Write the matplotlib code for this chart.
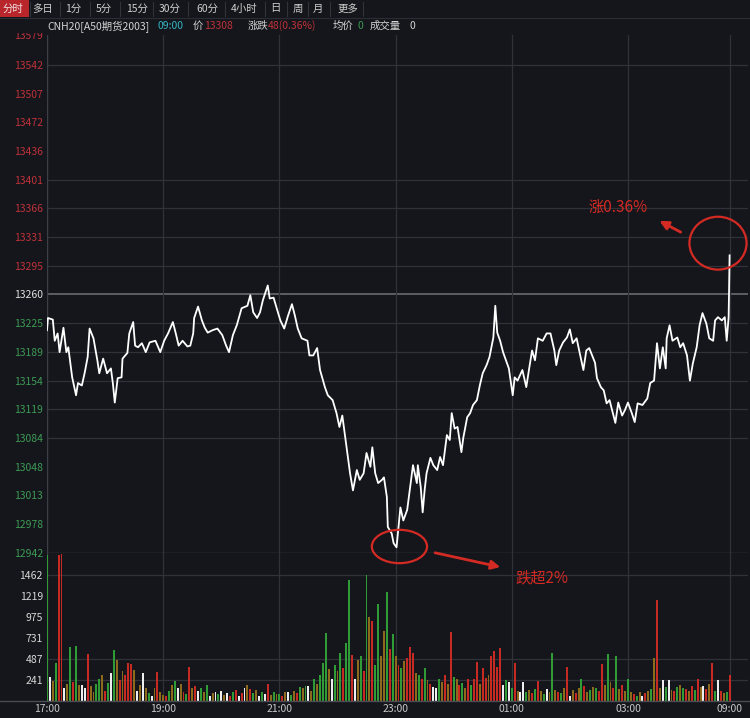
#!/usr/bin/env python3
"""A50 futures intraday (分时) chart, dark terminal style, with volume panel."""

import matplotlib
matplotlib.use("Agg")
import matplotlib.pyplot as plt
from matplotlib.patches import Ellipse, Rectangle

plt.rcParams["font.family"] = ["Noto Sans CJK SC", "DejaVu Sans"]

W, H = 750, 718
BG = "#14161b"
GRID = "#2f3238"
RED = "#c0313a"
GREEN = "#3d9a55"
LABEL = "#c9c9c9"
MARK = "#d42a24"

# ---- data -------------------------------------------------------------
# session minutes from 17:00 (axis jumps 04:45 -> 09:00, so 09:00 = 705)
time_ticks = [0, 120, 240, 360, 480, 600, 705]
time_labels = ["17:00", "19:00", "21:00", "23:00", "01:00", "03:00", "09:00"]

prev_close = 13260
price_ticks = [12942, 12978, 13013, 13048, 13084, 13119, 13154, 13189, 13225, 13260,
               13295, 13331, 13366, 13401, 13436, 13472, 13507, 13542, 13579]
price_grid = [13542, 13401, 13366, 13331, 13295, 13225, 13189, 13154, 13119, 13084]

price_t = [0, 1, 6, 8, 11, 13, 17, 20, 22, 26, 30, 32, 36, 39, 42, 44, 48, 52, 54, 58,
           62, 66, 68, 70, 73, 77, 78, 83, 85, 89, 91, 94, 98, 102, 106, 112, 117, 121, 125, 130,
           133, 136, 140, 145, 148, 151, 152, 156, 160, 163, 166, 171, 176, 181, 185, 188, 192, 196, 201, 207,
           210, 213, 217, 220, 223, 228, 230, 234, 238, 241, 245, 249, 253, 256, 259, 263, 269, 271, 275, 279,
           282, 287, 290, 295, 299, 302, 305, 308, 310, 313, 316, 320, 323, 327, 330, 334, 336, 339, 342, 346,
           348, 351, 352, 356, 358, 361, 365, 368, 372, 375, 378, 382, 383, 386, 388, 390, 392, 396, 399, 403,
           406, 409, 413, 416, 418, 421, 424, 428, 430, 434, 437, 440, 444, 447, 450, 454, 457, 461, 463, 465,
           468, 471, 474, 477, 481, 483, 486, 491, 495, 498, 501, 504, 507, 512, 516, 520, 524, 526, 529, 533,
           537, 540, 543, 547, 550, 554, 557, 560, 563, 566, 568, 572, 575, 578, 581, 585, 587, 590, 594, 597,
           600, 604, 607, 610, 615, 620, 623, 627, 630, 633, 636, 639, 640, 643, 646, 651, 654, 657, 661, 664,
           667, 671, 674, 677, 681, 684, 688, 690, 693, 697, 700, 702, 704, 705]
price_v = [13216, 13231, 13229, 13203, 13212, 13189, 13219, 13189, 13195, 13158, 13136, 13151, 13148, 13164, 13183, 13218, 13206, 13179, 13163, 13181,
           13163, 13169, 13151, 13127, 13157, 13158, 13181, 13188, 13212, 13226, 13197, 13195, 13200, 13189, 13201, 13203, 13189, 13203, 13212, 13226,
           13212, 13197, 13203, 13196, 13197, 13212, 13231, 13245, 13228, 13219, 13213, 13216, 13218, 13210, 13197, 13189, 13210, 13222, 13243, 13246,
           13259, 13238, 13231, 13238, 13253, 13271, 13255, 13256, 13240, 13228, 13218, 13234, 13248, 13234, 13218, 13206, 13203, 13185, 13185, 13194,
           13167, 13146, 13136, 13130, 13114, 13097, 13111, 13084, 13065, 13040, 13019, 13044, 13032, 13040, 13065, 13048, 13072, 13040, 13028, 13032,
           13035, 13011, 12974, 12966, 12954, 12949, 12998, 12982, 12995, 13023, 13050, 13028, 13050, 13023, 12992, 13019, 13040, 13059, 13050, 13044,
           13060, 13050, 13087, 13081, 13114, 13095, 13097, 13066, 13084, 13109, 13114, 13124, 13130, 13148, 13163, 13173, 13183, 13207, 13246, 13213,
           13203, 13189, 13179, 13169, 13136, 13158, 13154, 13167, 13146, 13169, 13191, 13179, 13206, 13203, 13212, 13212, 13191, 13173, 13191, 13201,
           13207, 13217, 13200, 13206, 13189, 13167, 13191, 13194, 13185, 13176, 13157, 13146, 13142, 13126, 13130, 13111, 13102, 13127, 13111, 13118,
           13127, 13114, 13103, 13126, 13124, 13132, 13151, 13154, 13200, 13169, 13195, 13169, 13206, 13222, 13203, 13207, 13195, 13200, 13185, 13154,
           13175, 13195, 13222, 13237, 13224, 13206, 13203, 13228, 13232, 13228, 13232, 13203, 13232, 13308]

# volume, one bar per 3 minutes; colour codes r/g/o/w
vol_ticks = [241, 487, 731, 975, 1219, 1462]
vol_grid = [241, 487, 1462]
vol_step = 3
vol = [1690, 280, 230, 440, 1690, 1700, 150, 200, 630, 220,
       640, 180, 190, 150, 540, 170, 110, 200, 260, 300,
       120, 210, 330, 590, 470, 240, 350, 300, 440, 430,
       360, 120, 180, 320, 150, 90, 60, 150, 340, 100,
       # 19:00
       70, 60, 120, 180, 230, 150, 200, 110, 80, 390,
       150, 170, 120, 150, 100, 180, 60, 90, 110, 80,
       120, 70, 90, 60, 110, 130, 60, 90, 150, 190,
       140, 90, 130, 60, 110, 80, 200, 70, 100, 80,
       # 21:00
       80, 60, 100, 110, 70, 120, 90, 160, 150, 170,
       170, 120, 250, 200, 300, 440, 790, 370, 260, 420,
       350, 560, 380, 670, 1400, 530, 250, 480, 520, 350,
       1460, 975, 930, 420, 1130, 520, 815, 1265, 600, 775,
       # 23:00
       520, 420, 380, 460, 500, 630, 560, 330, 300, 260,
       380, 240, 200, 160, 150, 260, 220, 300, 200, 800,
       280, 250, 180, 210, 150, 250, 180, 260, 450, 200,
       380, 270, 300, 520, 580, 400, 610, 180, 240, 220,
       # 01:00
       150, 440, 120, 100, 220, 110, 130, 90, 140, 230,
       120, 80, 140, 110, 555, 130, 100, 90, 150, 395,
       60, 130, 90, 150, 250, 170, 100, 130, 160, 150,
       120, 430, 180, 545, 220, 150, 525, 140, 180, 120,
       # 03:00
       255, 100, 80, 60, 110, 60, 90, 120, 140, 500,
       1170, 150, 240, 160, 240, 130, 120, 160, 190, 150,
       140, 120, 170, 130, 250, 160, 170, 140, 200, 440,
       120, 240, 120, 90, 110, 300]
vol_kind = ("gwogrrwogr" "gowwrooggo" "rgwgororrr" "owowogworo"
            "orgogworgr" "orwgogwowg" "wowrgrwrwo" "rgowgwrogo"
            "growgorgog" "wogogggowg" "ogrggrwogr" "gorggoogrg"
            "orgorrrogr" "gorwwgoror" "gorgorgrro" "rrorrrrwgw"
            "growwgorgr" "ogwogorgor" "worogrogog" "rrogorgoro"
            "gorgowrogo" "rowgworgog" "rorgrowror" "gwrogr")
kind_color = {"r": "#c62a22", "g": "#2f9c35", "o": "#8e6a1c", "w": "#eeeeee"}


def fx(x):
    return x / W


def fy(y):
    return 1 - y / H


fig = plt.figure(figsize=(W / 100, H / 100), dpi=100, facecolor=BG)

# ---- price panel --------------------------------------------------------
ax = fig.add_axes([fx(47), fy(553), fx(701), 518 / H])
ax.set_zorder(2)  # red marks below the panel must sit on top of the volume panel
ax.set_facecolor(BG)
ax.set_xlim(0, 724)
ax.set_ylim(price_ticks[0], price_ticks[-1])
for s in ax.spines.values():
    s.set_visible(False)
ax.axvline(0, color="#3c3f46", lw=1.0)

for lv in price_grid:
    ax.axhline(lv, color=GRID, lw=0.9, zorder=1)
ax.axhline(prev_close, color="#5b5e66", lw=1.4, zorder=1)
ax.axhline(price_ticks[0], color="#44474e", lw=1.0, zorder=1)
for t in time_ticks[1:]:
    ax.axvline(t, color=GRID, lw=0.9, zorder=1)

ax.plot(price_t, price_v, color="white", lw=1.3, zorder=3)

ax.set_xticks([])
ax.set_yticks(price_ticks)
ax.set_yticklabels([str(v) for v in price_ticks])
ax.tick_params(axis="y", length=0, pad=3, labelsize=7.5)
for v, lab in zip(price_ticks, ax.get_yticklabels()):
    lab.set_color(RED if v > prev_close else (GREEN if v < prev_close else "#e0e0e0"))

# ---- volume panel -------------------------------------------------------
vax = fig.add_axes([fx(47), fy(701), fx(701), 148 / H])
vax.set_zorder(1)
vax.set_facecolor(BG)
vax.set_xlim(0, 724)
vax.set_ylim(0, 1717)
for s in vax.spines.values():
    s.set_visible(False)
vax.axvline(0, color="#3c3f46", lw=1.0)
for lv in vol_grid:
    vax.axhline(lv, color=GRID, lw=0.9, zorder=1)
for t in time_ticks[1:]:
    vax.axvline(t, color=GRID, lw=0.9, zorder=1)

vol_t = [i * vol_step for i in range(len(vol))]
vax.bar(vol_t, vol, width=2.0, color=[kind_color[k] for k in vol_kind],
        linewidth=0, zorder=2)

vax.set_yticks(vol_ticks)
vax.set_yticklabels([str(v) for v in vol_ticks])
vax.set_xticks(time_ticks)
vax.set_xticklabels(time_labels)
vax.tick_params(axis="y", length=0, pad=3, labelsize=7.5, labelcolor="#d8d8d8")
vax.tick_params(axis="x", length=0, pad=2, labelsize=7.5, labelcolor=LABEL)

# bottom rule across the whole width
fig.add_artist(plt.Line2D([0, 1], [fy(701), fy(701)], color="#4a4d54", lw=1.0, zorder=3))

# ---- header bars --------------------------------------------------------
fig.patches.append(Rectangle((0, fy(33)), 1, 33 / H, transform=fig.transFigure,
                             facecolor=BG, edgecolor="none", zorder=5))
fig.patches.append(Rectangle((0, fy(17)), fx(29), 17 / H, transform=fig.transFigure,
                             facecolor="#b8262c", edgecolor="none", zorder=6))
fig.add_artist(plt.Line2D([0, 1], [fy(18), fy(18)], color="#2a2d33", lw=0.8, zorder=6))

tabs = ["分时", "多日", "1分", "5分", "15分", "30分", "60分", "4小时", "日", "周", "月", "更多"]
tab_x = [13, 43, 73, 104, 137, 170, 207, 244, 275, 298, 318, 348]
tab_sep = [30, 60, 90, 120, 153, 188, 225, 265, 287, 308, 330, 363]
for name, x in zip(tabs, tab_x):
    fig.text(fx(x), fy(8.5), name, ha="center", va="center", fontsize=7.5,
             color="#f0e6e6" if name == "分时" else "#cfcfcf", zorder=7)
for x in tab_sep:
    fig.add_artist(plt.Line2D([fx(x), fx(x)], [fy(2), fy(16)], color="#30333a", lw=0.8, zorder=7))

info = [("CNH20[A50期货2003]", 47, "#d4d4d4"), ("09:00", 157, "#35b6c4"),
        ("价", 193, "#d4d4d4"), ("13308", 204, RED), ("涨跌", 248, "#d4d4d4"),
        ("48(0.36%)", 268, RED), ("均价", 333, "#d4d4d4"), ("0", 358, GREEN),
        ("成交量", 370, "#d4d4d4"), ("0", 409, "#d4d4d4")]
for s, x, c in info:
    fig.text(fx(x), fy(26), s, ha="left", va="center", fontsize=7.5, color=c, zorder=7)

# ---- red hand-drawn marks ----------------------------------------------
ax.add_patch(Ellipse((693, 13323), 59, 65, fill=False, edgecolor=MARK, lw=1.6,
                     clip_on=False, zorder=6))
ax.add_patch(Ellipse((364, 12950), 57, 41, fill=False, edgecolor=MARK, lw=1.6,
                     clip_on=False, zorder=6))
ax.annotate("", xy=(630, 13352), xytext=(657, 13335), annotation_clip=False,
            arrowprops=dict(arrowstyle="-|>", color=MARK, lw=2.0, mutation_scale=13))
ax.annotate("", xy=(471, 12924), xytext=(398, 12943), annotation_clip=False,
            arrowprops=dict(arrowstyle="-|>", color=MARK, lw=2.0, mutation_scale=13))
ax.text(559, 13367, "涨0.36%", color=MARK, fontsize=11, ha="left", va="center",
        clip_on=False, zorder=6)
ax.text(484, 12912, "跌超2%", color=MARK, fontsize=11, ha="left", va="center",
        clip_on=False, zorder=6)

fig.savefig("out.png", dpi=100, facecolor=BG)
